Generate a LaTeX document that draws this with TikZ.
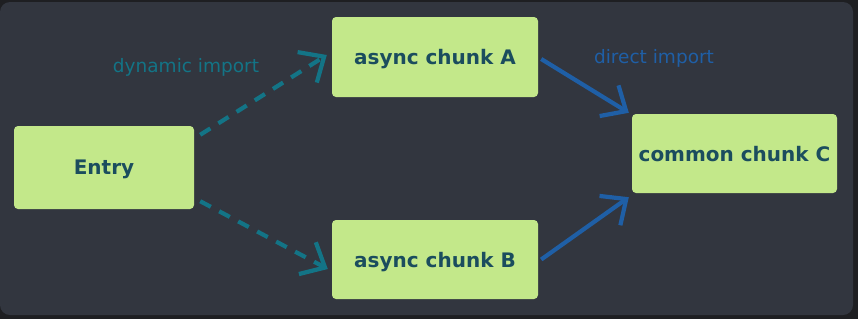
\documentclass[tikz,border=0pt]{standalone}
\usepackage{fontspec}
\setmainfont{DejaVu Sans}
\usetikzlibrary{arrows.meta}
\definecolor{frame}{HTML}{1E1F22}
\definecolor{panel}{HTML}{32363F}
\definecolor{chunkfill}{HTML}{C3E88A}
\definecolor{chunkink}{HTML}{1B4D5E}
\definecolor{dynline}{HTML}{137486}
\definecolor{dirline}{HTML}{1F5FA6}

\begin{document}
\begin{tikzpicture}[x=1pt,y=-1pt,
  chunk/.style={fill=chunkfill,rounded corners=4pt,text=chunkink,inner sep=0pt,
    text depth=0pt,font=\fontsize{20}{22}\selectfont\bfseries},
  dyn/.style={-{Straight Barb[length=20pt,width=36pt]},dynline,line width=4.2pt,
    dash pattern=on 12pt off 9.5pt},
  direct/.style={-{Straight Barb[length=20pt,width=36pt]},dirline,line width=4.2pt},
  lbl/.style={font=\fontsize{18.5}{20}\selectfont}
]
  % background panel
  \fill[frame] (0,0) rectangle (858,319);
  \fill[panel,rounded corners=10pt] (0,2) rectangle (853,315);
  \useasboundingbox (0,0) rectangle (858,319);

  % chunks
  \node[chunk,minimum width=180pt,minimum height=83pt] (entry) at (104,167.5) {Entry};
  \node[chunk,minimum width=206pt,minimum height=80pt] (chunkA) at (435,57) {async chunk A};
  \node[chunk,minimum width=206pt,minimum height=79pt] (chunkB) at (435,259.5) {async chunk B};
  \node[chunk,minimum width=205pt,minimum height=79pt] (chunkC) at (734.5,153.5) {common chunk C};

  % imports
  \draw[dyn] ([shift={(6,9)}]entry.north east) -- ([shift={(-5,-2)}]chunkA.west);
  \draw[dyn] ([shift={(6,-8)}]entry.south east) -- ([shift={(-4,9.5)}]chunkB.west);
  \draw[direct] ([shift={(3,2)}]chunkA.east) -- ([shift={(-3,-1)}]chunkC.north west);
  \draw[direct] ([shift={(3,0)}]chunkB.east) -- ([shift={(-3,4)}]chunkC.south west);

  \node[lbl,text=dynline] (dynlbl) at (186,67) {dynamic import};
  \node[lbl,text=dirline] (dirlbl) at (654,58) {direct import};
\end{tikzpicture}
\end{document}
